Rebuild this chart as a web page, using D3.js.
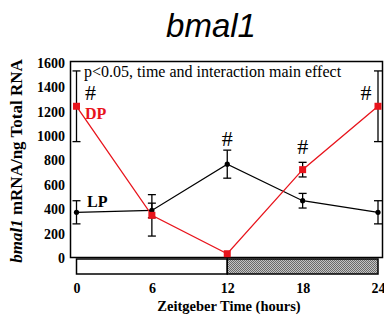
<!DOCTYPE html>
<html>
<head>
<meta charset="utf-8">
<script src="https://cdn.jsdelivr.net/npm/d3@7"></script>
<style>
  html, body { margin: 0; padding: 0; background: #fff; }
  svg { display: block; }
</style>
</head>
<body>
<svg id="chart" width="384" height="322"></svg>
<script>
// Zeitgeber time points (hours)
const zt = [0, 6, 12, 18, 24];
// bmal1 expression (mRNA/ng total RNA), mean and error
const lpMean = [375, 390, 770, 470, 375];
const lpErr  = [95, 60, 115, 60, 95];
const dpMean = [1245, 350, 35, 725, 1245];
const dpErr  = [290, 170, 0, 60, 290];
// Points marked as significant (#), with the height of each marker
const hashZt = [0, 12, 18, 24];
const hashVal = [1300, 920, 850, 1295];
const yTicks = [0, 200, 400, 600, 800, 1000, 1200, 1400, 1600];
const xTicks = [0, 6, 12, 18, 24];
// Light / dark phases
const phases = [{ from: 0, to: 12, dark: false }, { from: 12, to: 24, dark: true }];

const svg = d3.select("#chart");
const serif = "'Liberation Serif', 'Times New Roman', serif";
const red = "#e8141c";

const x = d3.scaleLinear().domain([0, 24]).range([76.5, 378]);
const y = d3.scaleLinear().domain([0, 1600]).range([258, 63]);

// Checker pattern for the dark phase
const defs = svg.append("defs");
const pat = defs.append("pattern").attr("id", "dark").attr("patternUnits", "userSpaceOnUse")
  .attr("width", 2).attr("height", 2);
pat.append("rect").attr("width", 2).attr("height", 2).attr("fill", "#c4c4c4");
pat.append("rect").attr("width", 1).attr("height", 1).attr("fill", "#6a6a6a");
pat.append("rect").attr("x", 1).attr("y", 1).attr("width", 1).attr("height", 1).attr("fill", "#6a6a6a");

// Title
svg.append("text").attr("x", 211).attr("y", 37).attr("text-anchor", "middle")
  .attr("font-family", "'Liberation Sans', Arial, sans-serif").attr("font-style", "italic")
  .attr("font-size", 33).text("bmal1");

// Plot frame
svg.append("rect").attr("x", 70.5).attr("y", 61.5).attr("width", 312).attr("height", 196)
  .attr("fill", "none").attr("stroke", "#000").attr("stroke-width", 1.5);

// Y axis labels
const yAxis = d3.axisLeft(y).tickValues(yTicks).tickFormat(d3.format("d")).tickSize(0).tickPadding(5);
const gy = svg.append("g").attr("transform", "translate(70,0)").call(yAxis);
gy.select(".domain").remove();
gy.selectAll("text").attr("font-family", serif).attr("font-weight", "bold")
  .attr("font-size", 14).attr("fill", "#000");

// Light/dark bar
svg.append("g").selectAll("rect").data(phases).join("rect")
  .attr("x", d => x(d.from)).attr("y", 259)
  .attr("width", d => x(d.to) - x(d.from)).attr("height", 15)
  .attr("fill", d => d.dark ? "url(#dark)" : "#fff")
  .attr("stroke", "#000").attr("stroke-width", 1.5);

// X axis labels
const xAxis = d3.axisBottom(x).tickValues(xTicks).tickSize(0).tickPadding(0);
const gx = svg.append("g").attr("transform", "translate(0,283)").call(xAxis);
gx.select(".domain").remove();
gx.selectAll("text").attr("font-family", serif).attr("font-weight", "bold")
  .attr("font-size", 14).attr("fill", "#000");

svg.append("text").attr("x", 229).attr("y", 311).attr("text-anchor", "middle")
  .attr("font-family", serif).attr("font-weight", "bold").attr("font-size", 14.5)
  .text("Zeitgeber Time (hours)");

// Y title
const yt = svg.append("text").attr("transform", "translate(22,161) rotate(-90)")
  .attr("text-anchor", "middle").attr("font-family", serif).attr("font-weight", "bold")
  .attr("font-size", 17);
yt.append("tspan").attr("font-style", "italic").text("bmal1");
yt.append("tspan").text(" mRNA/ng Total RNA");

// Annotation
svg.append("text").attr("x", 84).attr("y", 77).attr("font-family", serif)
  .attr("font-size", 16).text("p<0.05, time and interaction main effect");

const lpData = zt.map((t, i) => ({ t, v: lpMean[i], e: lpErr[i] }));
const dpData = zt.map((t, i) => ({ t, v: dpMean[i], e: dpErr[i] }));

function errorBars(data) {
  const g = svg.append("g").attr("stroke", "#000").attr("stroke-width", 1.3);
  data.filter(d => d.e > 0).forEach(d => {
    const cx = x(d.t);
    g.append("line").attr("x1", cx).attr("x2", cx).attr("y1", y(d.v + d.e)).attr("y2", y(d.v - d.e));
    [d.v + d.e, d.v - d.e].forEach(v => {
      g.append("line").attr("x1", cx - 4).attr("x2", cx + 4).attr("y1", y(v)).attr("y2", y(v));
    });
  });
}
errorBars(lpData);
errorBars(dpData);

const line = d3.line().x(d => x(d.t)).y(d => y(d.v));
svg.append("path").datum(lpData).attr("d", line).attr("fill", "none")
  .attr("stroke", "#000").attr("stroke-width", 1.3);
svg.append("path").datum(dpData).attr("d", line).attr("fill", "none")
  .attr("stroke", red).attr("stroke-width", 1.3);

svg.append("g").selectAll("circle").data(lpData).join("circle")
  .attr("cx", d => x(d.t)).attr("cy", d => y(d.v)).attr("r", 2.6).attr("fill", "#000");
svg.append("g").selectAll("rect").data(dpData).join("rect")
  .attr("x", d => x(d.t) - 3.5).attr("y", d => y(d.v) - 3.5)
  .attr("width", 7).attr("height", 7).attr("fill", red);

// Series labels
svg.append("text").attr("x", 85).attr("y", 119).attr("font-family", serif)
  .attr("font-weight", "bold").attr("font-size", 16).attr("fill", red).text("DP");
svg.append("text").attr("x", 87).attr("y", 207).attr("font-family", serif)
  .attr("font-weight", "bold").attr("font-size", 16).attr("fill", "#000").text("LP");

// Significance markers
const hashDx = [14, 0, 0, -12];
svg.append("g").selectAll("text").data(hashZt).join("text")
  .attr("x", (d, i) => x(d) + hashDx[i]).attr("y", (d, i) => y(hashVal[i]))
  .attr("text-anchor", "middle").attr("font-family", serif).attr("font-size", 22)
  .text("#");
</script>
</body>
</html>
